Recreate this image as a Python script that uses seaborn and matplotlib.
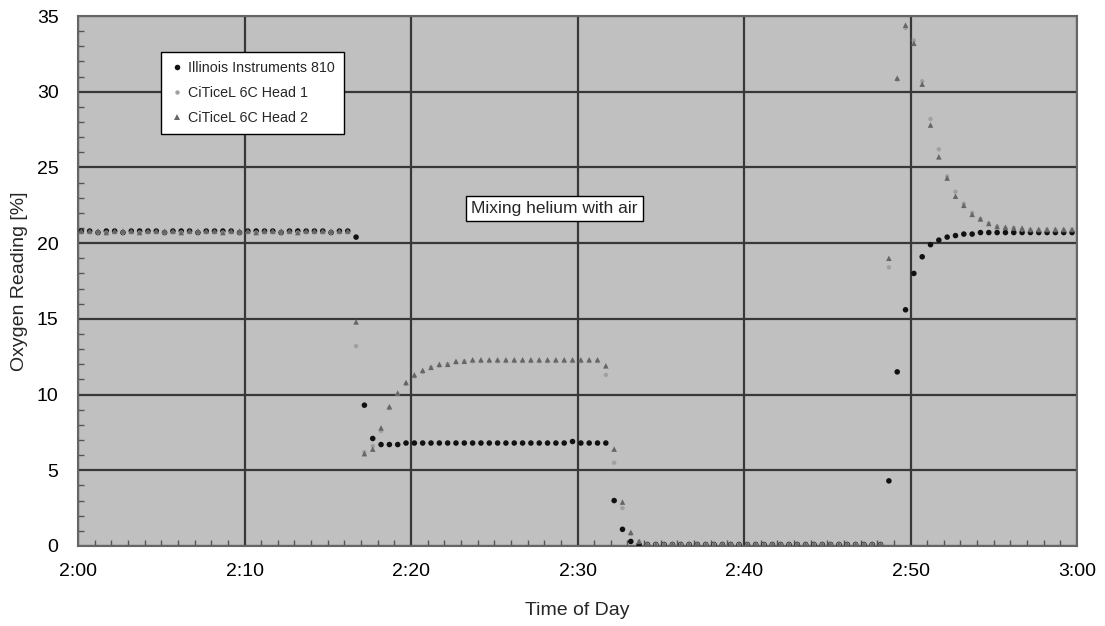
import numpy as np
import pandas as pd
import seaborn as sns
import matplotlib.pyplot as plt
from matplotlib.ticker import MultipleLocator

# sample times in minutes after 2:00 (one reading every 30 s)
minutes = np.arange(120) * 0.5 + 0.2

illinois = [
    20.8, 20.8, 20.7, 20.8, 20.8, 20.7, 20.8, 20.8, 20.8, 20.8,
    20.7, 20.8, 20.8, 20.8, 20.7, 20.8, 20.8, 20.8, 20.8, 20.7,
    20.8, 20.8, 20.8, 20.8, 20.7, 20.8, 20.8, 20.8, 20.8, 20.8,
    20.7, 20.8, 20.8, 20.4, 9.3, 7.1, 6.7, 6.7, 6.7, 6.8,
    6.8, 6.8, 6.8, 6.8, 6.8, 6.8, 6.8, 6.8, 6.8, 6.8,
    6.8, 6.8, 6.8, 6.8, 6.8, 6.8, 6.8, 6.8, 6.8, 6.9,
    6.8, 6.8, 6.8, 6.8, 3.0, 1.1, 0.3, 0.1, 0.1, 0.1,
    0.1, 0.1, 0.1, 0.1, 0.1, 0.1, 0.1, 0.1, 0.1, 0.1,
    0.1, 0.1, 0.1, 0.1, 0.1, 0.1, 0.1, 0.1, 0.1, 0.1,
    0.1, 0.1, 0.1, 0.1, 0.1, 0.1, 0.1, 4.3, 11.5, 15.6,
    18.0, 19.1, 19.9, 20.2, 20.4, 20.5, 20.6, 20.6, 20.7, 20.7,
    20.7, 20.7, 20.7, 20.7, 20.7, 20.7, 20.7, 20.7, 20.7, 20.7,
]

head1 = [
    20.7, 20.7, 20.7, 20.7, 20.7, 20.7, 20.7, 20.7, 20.7, 20.7,
    20.7, 20.7, 20.7, 20.7, 20.7, 20.7, 20.7, 20.7, 20.7, 20.7,
    20.7, 20.7, 20.7, 20.7, 20.7, 20.7, 20.7, 20.7, 20.7, 20.7,
    20.7, 20.7, 20.7, 13.2, 6.2, 6.6, 7.6, 9.1, 10.0, 10.7,
    11.2, 11.5, 11.8, 11.9, 12.0, 12.1, 12.2, 12.2, 12.2, 12.2,
    12.2, 12.2, 12.2, 12.2, 12.2, 12.2, 12.2, 12.2, 12.2, 12.2,
    12.2, 12.2, 12.2, 11.3, 5.5, 2.5, 0.8, 0.3, 0.1, 0.1,
    0.1, 0.1, 0.1, 0.1, 0.1, 0.1, 0.1, 0.1, 0.1, 0.1,
    0.1, 0.1, 0.1, 0.1, 0.1, 0.1, 0.1, 0.1, 0.1, 0.1,
    0.1, 0.1, 0.1, 0.1, 0.1, 0.1, 0.1, 18.4, 30.8, 34.2,
    33.4, 30.7, 28.2, 26.2, 24.4, 23.4, 22.6, 22.0, 21.6, 21.3,
    21.1, 21.0, 21.0, 20.9, 20.9, 20.9, 20.9, 20.9, 20.9, 20.9,
]

head2 = [
    20.8, 20.8, 20.8, 20.7, 20.8, 20.8, 20.8, 20.7, 20.8, 20.8,
    20.8, 20.8, 20.7, 20.8, 20.8, 20.8, 20.8, 20.7, 20.8, 20.8,
    20.8, 20.7, 20.8, 20.8, 20.8, 20.8, 20.7, 20.8, 20.8, 20.8,
    20.8, 20.8, 20.8, 14.8, 6.1, 6.4, 7.8, 9.2, 10.1, 10.8,
    11.3, 11.6, 11.8, 12.0, 12.0, 12.2, 12.2, 12.3, 12.3, 12.3,
    12.3, 12.3, 12.3, 12.3, 12.3, 12.3, 12.3, 12.3, 12.3, 12.3,
    12.3, 12.3, 12.3, 11.9, 6.4, 2.9, 0.9, 0.3, 0.1, 0.1,
    0.1, 0.1, 0.1, 0.1, 0.1, 0.1, 0.1, 0.1, 0.1, 0.1,
    0.1, 0.1, 0.1, 0.1, 0.1, 0.1, 0.1, 0.1, 0.1, 0.1,
    0.1, 0.1, 0.1, 0.1, 0.1, 0.1, 0.1, 19.0, 30.9, 34.4,
    33.2, 30.5, 27.8, 25.7, 24.3, 23.1, 22.5, 21.9, 21.6, 21.3,
    21.1, 21.05, 21.0, 21.0, 20.9, 20.9, 20.9, 20.9, 20.9, 20.9,
]

sensor_names = ["Illinois Instruments 810", "CiTiceL 6C Head 1", "CiTiceL 6C Head 2"]
tick_pos = [0, 10, 20, 30, 40, 50, 60]
tick_labels = ["2:00", "2:10", "2:20", "2:30", "2:40", "2:50", "3:00"]

df = pd.DataFrame({"minute": minutes,
                   sensor_names[0]: illinois,
                   sensor_names[1]: head1,
                   sensor_names[2]: head2})
long_df = df.melt(id_vars="minute", var_name="sensor", value_name="o2")

sns.set_theme(style="white")
plt.rcParams['font.family'] = ['Liberation Sans', 'DejaVu Sans']

fig, ax = plt.subplots(figsize=(11.05, 6.26), dpi=100)
fig.subplots_adjust(left=0.0706, right=0.9747, top=0.9744, bottom=0.1278)
ax.set_facecolor('#c0c0c0')

sns.scatterplot(data=long_df, x="minute", y="o2", hue="sensor", style="sensor", size="sensor",
                hue_order=sensor_names, style_order=sensor_names, size_order=sensor_names,
                palette={sensor_names[0]: '#111111', sensor_names[1]: '#a0a0a0', sensor_names[2]: '#666666'},
                markers={sensor_names[0]: 'o', sensor_names[1]: 'o', sensor_names[2]: '^'},
                sizes={sensor_names[0]: 16, sensor_names[1]: 10, sensor_names[2]: 16},
                linewidth=0, ax=ax, zorder=3)

ax.set_xlim(0, 60)
ax.set_ylim(0, 35)
ax.set_xticks(tick_pos)
ax.set_xticklabels(tick_labels)
ax.set_yticks(range(0, 36, 5))
ax.xaxis.set_minor_locator(MultipleLocator(1))
ax.yaxis.set_minor_locator(MultipleLocator(1))
ax.tick_params(which='major', length=0, labelsize=14, pad=12, colors='black')
ax.tick_params(axis='y', which='major', pad=14)
ax.tick_params(which='minor', direction='in', length=4, width=1, color='#555555',
               bottom=True, left=True)
ax.grid(True, which='major', color='#383838', linewidth=1.6)
ax.set_axisbelow(True)
for sp in ax.spines.values():
    sp.set_color('#666666')
    sp.set_linewidth(1.5)

ax.set_xlabel("Time of Day", fontsize=14, labelpad=16)
ax.set_ylabel("Oxygen Reading [%]", fontsize=14, labelpad=6)

ax.text(28.6, 22.3, "Mixing helium with air", ha='center', va='center', fontsize=12.5,
        zorder=5, bbox=dict(boxstyle='square,pad=0.3', fc='white', ec='black', lw=1))

handles, labels = ax.get_legend_handles_labels()
leg = ax.legend(handles, labels, loc='upper left', bbox_to_anchor=(0.076, 0.945),
                prop={'size': 10.3}, frameon=True, fancybox=False,
                edgecolor='black', framealpha=1, labelspacing=0.78, handletextpad=0.3,
                handlelength=1.0, borderpad=0.6, markerscale=1.0)
leg.get_frame().set_linewidth(1)

fig.savefig("out.png", dpi=100)
